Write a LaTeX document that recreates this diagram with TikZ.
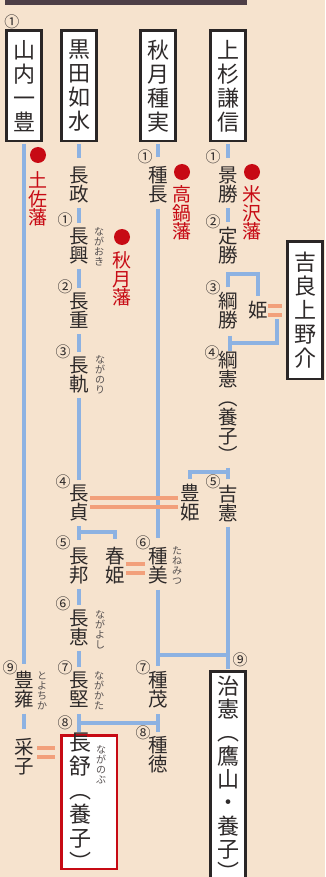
\documentclass[tikz,border=0pt]{standalone}
\usepackage{fontspec}
\newfontfamily\cjk{Noto Sans CJK JP}
\usetikzlibrary{calc}
\definecolor{bgc}{HTML}{F6E3CE}
\definecolor{barc}{HTML}{4E3F47}
\definecolor{bluec}{HTML}{8DB2E2}
\definecolor{orc}{HTML}{F2A07B}
\definecolor{hred}{HTML}{C70A14}
\definecolor{txt}{HTML}{2E2A2A}
\definecolor{yomic}{HTML}{555050}
\definecolor{boxline}{HTML}{2A2626}
\lineskiplimit=-100pt
\begin{document}
\begin{tikzpicture}[x=1pt,y=-1pt,
  nm/.style={font=\cjk\fontsize{19.5}{19}\selectfont, text=txt, align=center, inner sep=0pt},
  rd/.style={font=\cjk\fontsize{19}{18.5}\selectfont, text=hred, align=center, inner sep=0pt},
  bxt/.style={font=\cjk\fontsize{22}{24}\selectfont, text=txt, align=center, inner sep=0pt},
  bx/.style={bxt, draw=boxline, line width=2.5pt, fill=white, minimum width=35pt, minimum height=110.5pt},
  yomi/.style={font=\cjk\fontsize{10}{10}\selectfont, text=yomic, align=center, inner sep=0pt},
  num/.style={font=\cjk\fontsize{15}{15}\selectfont, text=txt, inner sep=0pt},
  dot/.style={circle, fill=hred, minimum size=16pt, inner sep=0pt},
  bl/.style={draw=bluec, line width=4.5pt},
  or/.style={draw=orc, line width=3.5pt},
  sh/.style={shorten <=5pt, shorten >=5pt}]
\useasboundingbox (0,0) rectangle (325,877);
\fill[bgc] (0,0) rectangle (325,877);
\fill[barc] (5,0) rectangle (247,5);

% founders
\node[bx] (b1) at (24,86) {山\\内\\一\\豊};
\node[bx] (b2) at (79,86) {黒\\田\\如\\水};
\node[bx] (b3) at (158,86) {秋\\月\\種\\実};
\node[bx] (b4) at (228,86) {上\\杉\\謙\\信};
\node[num] (n0) at (12,22) {①};

% column 1
\node[dot] (d1) at (38,155) {};
\node[rd] (tosa) at (38,199) {土\\佐\\藩};
\node[num] (c1n9) at (10,668) {⑨};
\node[nm] (toyoyasu) at (24,690) {豊\\雍};
\node[yomi] (toyoyasuY) at (42,691) {と\\よ\\ち\\か};
\node[nm] (uneko) at (24,757) {采\\子};

% column 2
\node[nm] (nagamasa) at (79,185) {長\\政};
\node[num] (c2n1) at (65,220) {①};
\node[nm] (nagaoki) at (79,246) {長\\興};
\node[yomi] (nagaokiY) at (99,247) {な\\が\\お\\き};
\node[num] (c2n2) at (65,287) {②};
\node[nm] (nagashige) at (79,311) {長\\重};
\node[num] (c2n3) at (63,352) {③};
\node[nm] (naganori) at (79,375) {長\\軌};
\node[yomi] (naganoriY) at (100,375) {な\\が\\の\\り};
\node[num] (c2n4) at (63,482) {④};
\node[nm] (nagasada) at (79,503) {長\\貞};
\node[num] (c2n5) at (63,543) {⑤};
\node[nm] (nagakuni) at (79,566) {長\\邦};
\node[nm] (haruhime) at (115,566) {春\\姫};
\node[num] (c2n6) at (63,604) {⑥};
\node[nm] (nagayoshi) at (79,628) {長\\恵};
\node[yomi] (nagayoshiY) at (100,630) {な\\が\\よ\\し};
\node[num] (c2n7) at (65,668) {⑦};
\node[nm] (nagakata) at (79,690) {長\\堅};
\node[yomi] (nagakataY) at (99,691) {な\\が\\か\\た};
\node[num] (c2n8) at (65,723) {⑧};
\node[dot] (d2) at (122,237) {};
\node[rd] (akizuki) at (122,279) {秋\\月\\藩};
\node[draw=hred, line width=2.5pt, fill=white, minimum width=55.5pt, minimum height=133.5pt, inner sep=0pt] (nbox) at (89,802) {};
\node[bxt] (naganobu) at (80,802) {長\\舒\\︵\\養\\子\\︶};
\node[yomi] (naganobuY) at (101,765) {な\\が\\の\\ぶ};

% column 3
\node[num] (c3n1) at (145,157) {①};
\node[nm] (tanenaga) at (158,185) {種\\長};
\node[dot] (d3) at (182,172) {};
\node[rd] (takanabe) at (182,213) {高\\鍋\\藩};
\node[num] (c3n6) at (143,543) {⑥};
\node[nm] (tanemitsu) at (158,566) {種\\美};
\node[yomi] (tanemitsuY) at (177,566) {た\\ね\\み\\つ};
\node[num] (c3n7) at (143,668) {⑦};
\node[nm] (tanemochi) at (158,690) {種\\茂};
\node[num] (c3n8) at (143,733) {⑧};
\node[nm] (tanenori) at (158,755) {種\\徳};

% column 4
\node[num] (c4n1) at (213,157) {①};
\node[nm] (kagekatsu) at (228,185) {景\\勝};
\node[dot] (d4) at (252,172) {};
\node[rd] (yonezawa) at (252,213) {米\\沢\\藩};
\node[num] (c4n2) at (213,222) {②};
\node[nm] (sadakatsu) at (228,246) {定\\勝};
\node[num] (c4n3) at (213,288) {③};
\node[nm] (tsunakatsu) at (228,311) {綱\\勝};
\node[nm] (hime) at (258,310) {姫};
\node[bx, minimum height=137.5pt] (kira) at (305,310) {吉\\良\\上\\野\\介};
\node[num] (c4n4) at (212,353) {④};
\node[nm] (tsunanori) at (228,407) {綱\\憲\\︵\\養\\子\\︶};
\node[num] (c4n5) at (213,482) {⑤};
\node[nm] (toyohime) at (190,503) {豊\\姫};
\node[nm] (yoshinori) at (228,503) {吉\\憲};
\node[num] (c4n9) at (240,660) {⑨};
\node[bx, anchor=north, minimum height=214pt, font=\cjk\fontsize{22}{23.3}\selectfont] (harunori) at (228,670) {治\\憲\\︵\\鷹\\山\\・\\養\\子\\︶};

% blue lines: column 1
\draw[bl, shorten <=1.2pt, shorten >=7pt] (b1.south) -- (toyoyasu.north);
\draw[bl, shorten <=5pt, shorten >=9pt] (toyoyasu.south) -- (uneko.north);

% column 2
\draw[bl, shorten <=1.2pt, shorten >=9pt] (b2.south) -- (nagamasa.north);
\draw[bl, sh] (nagamasa.south) -- (nagaoki.north);
\draw[bl, sh] (nagaoki.south) -- (nagashige.north);
\draw[bl, sh] (naganori.north) -- (nagashige.south);
\draw[bl, sh] (naganori.south) -- (nagasada.north);
\coordinate (kb) at (0,532);
\draw[bl, shorten <=5pt, shorten >=8pt] (nagasada.south) -- (nagakuni.north);
\draw[bl, shorten >=8pt] (nagasada.south |- kb) -| (haruhime.north);
\draw[bl, sh] (nagakuni.south) -- (nagayoshi.north);
\draw[bl, sh] (nagayoshi.south) -- (nagakata.north);
\coordinate (ib) at (0,723);
\coordinate (ibL) at (nagakata.south |- ib);
\coordinate (ibR) at (tanemochi.south |- ib);
\draw[bl] (ibL) -- (ibR);
\draw[bl] ($(ibL)+(0,-9)$) -- ($(ibL)+(0,9)$);
\draw[bl] ($(ibR)+(0,-9)$) -- ($(ibR)+(0,9)$);

% column 3
\draw[bl, shorten <=1.2pt, shorten >=9pt] (b3.south) -- (tanenaga.north);
\draw[bl, shorten <=5pt, shorten >=9pt] (tanenaga.south) -- (tanemitsu.north);
\draw[bl, sh] (tanemitsu.south) -- (tanemochi.north);
\coordinate (jh) at (0,655);
\draw[bl] (tanemitsu.south |- jh) -- (yoshinori.south |- jh);

% column 4
\draw[bl, shorten <=1.2pt, shorten >=9pt] (b4.south) -- (kagekatsu.north);
\draw[bl, sh] (kagekatsu.south) -- (sadakatsu.north);
\coordinate (sb) at (0,274);
\draw[bl, shorten <=5pt, shorten >=5pt] (tsunakatsu.north) |- (hime.north |- sb) -- (hime.north);
\coordinate (hm) at ($(hime.east)!0.5!(kira.west)$);
\coordinate (hy) at (0,343);
\coordinate (hc) at ($(tsunanori.north |- hy)+(2,0)$);
\draw[bl] ($(hm)+(0,9)$) |- (hc);
\draw[bl] ($(hc)+(0,-7.5)$) -- ($(hc)+(0,7.5)$);
\coordinate (tb) at (0,472);
\draw[bl, shorten <=5pt, shorten >=5pt] (tsunanori.south) -- (yoshinori.north);
\draw[bl, shorten >=5pt] (yoshinori.north |- tb) -| (toyohime.north);
\draw[bl, shorten <=5pt, shorten >=1.2pt] (yoshinori.south) -- (harunori.north);

% marriages (orange double lines)
\draw[or] ($(nagasada.east)+(1.5,-5)$) -- ($(toyohime.west |- nagasada.east)+(-2.5,-5)$);
\draw[or] ($(nagasada.east)+(1.5,4)$) -- ($(toyohime.west |- nagasada.east)+(-2.5,4)$);
\draw[or] ($(haruhime.east)+(1.5,-2)$) -- ($(tanemitsu.west |- haruhime.east)+(-3.5,-2)$);
\draw[or] ($(haruhime.east)+(1.5,7)$) -- ($(tanemitsu.west |- haruhime.east)+(-3.5,7)$);
\draw[or] ($(hime.east)+(0.5,-4)$) -- ($(kira.west |- hime.east)+(-4.5,-4)$);
\draw[or] ($(hime.east)+(0.5,5)$) -- ($(kira.west |- hime.east)+(-4.5,5)$);
\draw[or] ($(uneko.east)+(3.5,-9)$) -- ($(nbox.west |- uneko.east)+(-5,-9)$);
\draw[or] ($(uneko.east)+(3.5,0)$) -- ($(nbox.west |- uneko.east)+(-5,0)$);
\end{tikzpicture}
\end{document}
